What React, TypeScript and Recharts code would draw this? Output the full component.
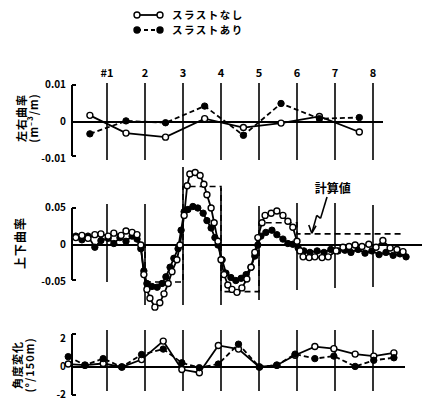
import React from "react";
import { Legend, Line, LineChart, ReferenceLine, XAxis, YAxis } from "recharts";

const FONT = '"Noto Sans CJK JP", "Noto Sans", sans-serif';

const stationNumbers = [1, 2, 3, 4, 5, 6, 7, 8];
const stationLabels = ["#1", "2", "3", "4", "5", "6", "7", "8"];
const seriesNames = ["スラストなし", "スラストあり"];

// 左右曲率 (station, value)
const lrX = [0.55, 1.5, 2.54, 3.57, 4.59, 5.58, 6.59, 7.64];
const lrNoThrust = [0.0018, -0.003, -0.0041, 0.0009, -0.0015, -0.0003, 0.0015, -0.0027];
const lrThrust = [-0.0032, 0.0003, -0.0002, 0.0043, -0.0036, 0.005, 0.0009, 0.0012];

// 上下曲率
const vNoX = [
  0.18, 0.34, 0.5, 0.68, 0.84, 1.03, 1.18, 1.37, 1.5, 1.66, 1.79, 1.89, 1.97, 2.05, 2.13, 2.26, 2.39,
  2.5, 2.61, 2.71, 2.84, 2.92, 3.03, 3.11, 3.18, 3.32, 3.45, 3.55, 3.63, 3.74, 3.82, 3.92, 4.0, 4.08,
  4.18, 4.29, 4.42, 4.55, 4.68, 4.79, 4.89, 4.97, 5.08, 5.16, 5.32, 5.47, 5.63, 5.76, 5.89, 6.0, 6.08,
  6.16, 6.32, 6.47, 6.66, 6.82, 7.03, 7.21, 7.37, 7.53, 7.71, 7.89, 8.08, 8.26, 8.45, 8.63, 8.79,
];
const vNoThrust = [
  0.01, 0.013, 0.009, 0.014, 0.015, 0.012, 0.016, 0.013, 0.019, 0.017, 0.014, 0.0, -0.04, -0.06, -0.072,
  -0.084, -0.078, -0.066, -0.052, -0.036, -0.02, 0.0, 0.04, 0.08, 0.096, 0.098, 0.094, 0.082, 0.068,
  0.05, 0.03, 0.005, -0.02, -0.04, -0.054, -0.06, -0.064, -0.058, -0.046, -0.03, -0.01, 0.01, 0.03,
  0.04, 0.043, 0.046, 0.04, 0.032, 0.024, 0.005, -0.008, -0.016, -0.017, -0.016, -0.017, -0.016,
  -0.008, -0.003, -0.002, 0.0, -0.002, 0.001, -0.003, 0.006, -0.004, -0.006, -0.009,
];
const vThX = [
  0.18, 0.34, 0.5, 0.68, 0.84, 1.03, 1.18, 1.34, 1.5, 1.66, 1.79, 1.89, 1.97, 2.05, 2.18, 2.32, 2.45,
  2.55, 2.66, 2.76, 2.87, 2.95, 3.03, 3.13, 3.26, 3.39, 3.53, 3.63, 3.74, 3.84, 3.92, 4.03, 4.13, 4.26,
  4.39, 4.53, 4.66, 4.79, 4.89, 4.97, 5.05, 5.18, 5.34, 5.47, 5.63, 5.76, 5.89, 6.03, 6.18, 6.34, 6.53,
  6.71, 6.89, 7.08, 7.26, 7.42, 7.61, 7.79, 7.97, 8.16, 8.34, 8.53, 8.71, 8.87,
];
const vThrust = [
  0.012, 0.007, 0.012, -0.003, 0.006, 0.009, 0.002, 0.01, 0.005, 0.012, 0.008, -0.005, -0.035, -0.052,
  -0.056, -0.057, -0.052, -0.043, -0.03, -0.018, -0.005, 0.02, 0.045, 0.048, 0.052, 0.05, 0.043, 0.033,
  0.023, 0.01, 0.0, -0.02, -0.038, -0.044, -0.048, -0.045, -0.04, -0.03, -0.015, 0.0, 0.012, 0.017,
  0.02, 0.014, 0.008, 0.002, 0.001, -0.004, -0.008, -0.01, -0.008, -0.01, -0.006, -0.008, -0.007,
  -0.01, -0.006, -0.011, -0.008, -0.013, -0.01, -0.014, -0.012, -0.016,
];
// 計算値 (step)
const calcX = [0.08, 2, 3, 4, 5, 6, 8.8];
const calcY = [0, -0.05, 0.079, -0.063, 0.03, 0.015, 0.015];

// 角度変化
const angX = [-0.02, 0.42, 0.9, 1.39, 1.91, 2.48, 2.97, 3.43, 3.93, 4.46, 5.01, 5.47, 5.95, 6.47, 6.97, 7.53, 8.02, 8.55];
const angNoThrust = [0.21, 0.13, 0.25, 0.0, 0.53, 1.85, -0.18, -0.41, 1.54, 1.28, 0.0, 0.13, 0.84, 1.46, 1.31, 0.92, 0.78, 1.01];
const angThrust = [0.74, 0.13, 0.6, 0.0, 0.89, 1.28, 0.3, -0.05, 0.21, 1.63, 0.0, 0.13, 0.92, 0.6, 0.78, 0.04, 0.48, 0.66];

// annotation arrow for 計算値, in (station, curvature)
const arrowPath = [
  { x: 6.79, y: 0.065 },
  { x: 6.62, y: 0.036 },
  { x: 6.52, y: 0.04 },
  { x: 6.39, y: 0.016 },
];
const arrowHead = [
  { x: 6.31, y: 0.027 },
  { x: 6.39, y: 0.016 },
  { x: 6.5, y: 0.026 },
];

// layout: 38px per station, station #1 at 107px
const stationAt = (px: number) => (px - 69) / 38;
const X_DOMAIN = [stationAt(56), stationAt(432)];
const AXIS_X = stationAt(72);

type Geom = { top: number; height: number; zero: number; scale: number };
const P1: Geom = { top: 0, height: 165, zero: 122, scale: 3700 };
const P2: Geom = { top: 165, height: 147, zero: 245, scale: 740 };
const P3: Geom = { top: 312, height: 89, zero: 367, scale: 14 };

const yDomain = (g: Geom) => [(g.zero - g.top - g.height) / g.scale, (g.zero - g.top) / g.scale];
const yAt = (g: Geom, py: number) => (g.zero - py) / g.scale;

const toPoints = (xs: number[], ys: number[]) => xs.map((x, i) => ({ x, y: ys[i] }));

const openDot = { r: 3, fill: "#fff", stroke: "#000", strokeWidth: 1.4, strokeDasharray: "none" };
const filledDot = { r: 3.2, fill: "#000", stroke: "#000", strokeWidth: 1, strokeDasharray: "none" };

const textStyle = { fill: "#000", fontFamily: FONT, fontWeight: 700 };

const renderTick = (fmt: (v: number) => string) => (props: any) => (
  <text x={66} y={props.y} dy={3} textAnchor="end" fontSize={10} {...textStyle}>
    {fmt(props.payload.value)}
  </text>
);

const renderTitle = (lines: string[], xs: number[], cy: number, size: number) => () => (
  <g>
    {lines.map((t, i) => (
      <text
        key={t}
        transform={`translate(${xs[i]},${cy}) rotate(-90)`}
        textAnchor="middle"
        dominantBaseline="central"
        fontSize={size}
        letterSpacing={1}
        {...textStyle}
      >
        {t}
      </text>
    ))}
  </g>
);

const stationLines = (g: Geom, tops: number[], bottoms: number[], labelled: boolean) =>
  stationNumbers.map((s, i) => (
    <ReferenceLine
      key={`st-${s}`}
      segment={[
        { x: s, y: yAt(g, tops[i]) },
        { x: s, y: yAt(g, bottoms[i]) },
      ]}
      stroke="#000"
      strokeWidth={1.6}
      label={
        labelled
          ? { value: stationLabels[i], position: "top", offset: 6, fontSize: 11, ...textStyle }
          : undefined
      }
    />
  ));

const bracket = (g: Geom, topPx: number, bottomPx: number) => [
  <ReferenceLine
    key="br-v"
    segment={[
      { x: AXIS_X, y: yAt(g, topPx) },
      { x: AXIS_X, y: yAt(g, bottomPx) },
    ]}
    stroke="#000"
    strokeWidth={2}
  />,
  <ReferenceLine
    key="br-t"
    segment={[
      { x: AXIS_X, y: yAt(g, topPx) },
      { x: stationAt(76), y: yAt(g, topPx) },
    ]}
    stroke="#000"
    strokeWidth={2}
  />,
  <ReferenceLine
    key="br-b"
    segment={[
      { x: AXIS_X, y: yAt(g, bottomPx) },
      { x: stationAt(76), y: yAt(g, bottomPx) },
    ]}
    stroke="#000"
    strokeWidth={2}
  />,
];

const zeroLine = (endPx: number) => (
  <ReferenceLine
    segment={[
      { x: AXIS_X, y: 0 },
      { x: stationAt(endPx), y: 0 },
    ]}
    stroke="#000"
    strokeWidth={2}
  />
);

const renderLegend = () => (
  <div style={{ fontFamily: FONT, fontWeight: 700, fontSize: 10.5, lineHeight: "15px", color: "#000" }}>
    {seriesNames.map((name, i) => (
      <div key={name} style={{ display: "flex", alignItems: "center", height: 15 }}>
        <svg width={34} height={10}>
          <line x1={5} y1={5} x2={28} y2={5} stroke="#000" strokeWidth={1.8} strokeDasharray={i ? "4 3" : undefined} />
          <circle cx={5} cy={5} r={3} fill={i ? "#000" : "#fff"} stroke="#000" strokeWidth={1.4} />
          <circle cx={28} cy={5} r={3} fill={i ? "#000" : "#fff"} stroke="#000" strokeWidth={1.4} />
        </svg>
        <span style={{ marginLeft: 6, lineHeight: "15px", letterSpacing: 1.5 }}>{name}</span>
      </div>
    ))}
  </div>
);

const fmt2 = (v: number) => (v === 0 ? "0" : v.toFixed(2));
const fmtInt = (v: number) => String(v);

const margin = { top: 0, right: 0, bottom: 0, left: 0 };

export default function App() {
  return (
    <div style={{ position: "absolute", left: 0, top: 0, width: 432, height: 401, background: "#fff", fontFamily: FONT }}>
      <div style={{ position: "absolute", left: 0, top: P1.top }}>
        <LineChart width={432} height={P1.height} margin={margin}>
          <XAxis type="number" dataKey="x" domain={X_DOMAIN} allowDataOverflow hide />
          <YAxis
            type="number"
            domain={yDomain(P1)}
            allowDataOverflow
            ticks={[0.01, 0, -0.01]}
            interval={0}
            width={56}
            axisLine={false}
            tickLine={false}
            tick={renderTick(fmt2)}
            label={renderTitle(["左右曲率", "(m⁻³/m)"], [21, 33], 118, 11)}
          />
          <Legend
            content={renderLegend}
            layout="horizontal"
            verticalAlign="middle"
            align="center"
            wrapperStyle={{ top: 7, left: 132, width: 150 }}
          />
          {zeroLine(383)}
          {bracket(P1, 85, 156)}
          {stationLines(P1, Array(8).fill(83), Array(8).fill(160), true)}
          <Line
            data={toPoints(lrX, lrNoThrust)}
            dataKey="y"
            name={seriesNames[0]}
            type="linear"
            stroke="#000"
            strokeWidth={1.8}
            dot={openDot}
            activeDot={false}
            isAnimationActive={false}
          />
          <Line
            data={toPoints(lrX, lrThrust)}
            dataKey="y"
            name={seriesNames[1]}
            type="linear"
            stroke="#000"
            strokeWidth={1.8}
            strokeDasharray="5 3"
            dot={filledDot}
            activeDot={false}
            isAnimationActive={false}
          />
        </LineChart>
      </div>

      <div style={{ position: "absolute", left: 0, top: P2.top }}>
        <LineChart width={432} height={P2.height} margin={margin}>
          <XAxis type="number" dataKey="x" domain={X_DOMAIN} allowDataOverflow hide />
          <YAxis
            type="number"
            domain={yDomain(P2)}
            allowDataOverflow
            ticks={[0.05, 0, -0.05]}
            interval={0}
            width={56}
            axisLine={false}
            tickLine={false}
            tick={renderTick(fmt2)}
            label={renderTitle(["上下曲率"], [19], 78, 12)}
          />
          {zeroLine(422)}
          {bracket(P2, 208, 280)}
          {stationLines(
            P2,
            [204, 204, 167, 188, 206, 203, 203, 205],
            [282, 305, 305, 305, 300, 290, 288, 287],
            false
          )}
          {arrowPath.slice(1).map((p, i) => (
            <ReferenceLine
              key={`ar-${i}`}
              segment={[arrowPath[i], p]}
              stroke="#000"
              strokeWidth={1.6}
              label={
                i === 0
                  ? { value: "計算値", position: "top", offset: 4, dx: 9, fontSize: 12, ...textStyle }
                  : undefined
              }
            />
          ))}
          {arrowHead.slice(1).map((p, i) => (
            <ReferenceLine key={`ah-${i}`} segment={[arrowHead[i], p]} stroke="#000" strokeWidth={1.6} />
          ))}
          <Line
            data={toPoints(calcX, calcY)}
            dataKey="y"
            name="計算値"
            type="stepAfter"
            stroke="#000"
            strokeWidth={1.6}
            strokeDasharray="6 4"
            dot={false}
            activeDot={false}
            isAnimationActive={false}
          />
          <Line
            data={toPoints(vThX, vThrust)}
            dataKey="y"
            name={seriesNames[1]}
            type="linear"
            stroke="#000"
            strokeWidth={1.8}
            dot={filledDot}
            activeDot={false}
            isAnimationActive={false}
          />
          <Line
            data={toPoints(vNoX, vNoThrust)}
            dataKey="y"
            name={seriesNames[0]}
            type="linear"
            stroke="#000"
            strokeWidth={1.8}
            dot={openDot}
            activeDot={false}
            isAnimationActive={false}
          />
        </LineChart>
      </div>

      <div style={{ position: "absolute", left: 0, top: P3.top }}>
        <LineChart width={432} height={P3.height} margin={margin}>
          <XAxis type="number" dataKey="x" domain={X_DOMAIN} allowDataOverflow hide />
          <YAxis
            type="number"
            domain={yDomain(P3)}
            allowDataOverflow
            ticks={[2, 0, -2]}
            interval={0}
            width={56}
            axisLine={false}
            tickLine={false}
            tick={renderTick(fmtInt)}
            label={renderTitle(["角度変化", "(°/150m)"], [17, 29], 53, 11)}
          />
          {zeroLine(405)}
          {bracket(P3, 334, 395)}
          {stationLines(P3, Array(8).fill(330), Array(8).fill(391), false)}
          <Line
            data={toPoints(angX, angNoThrust)}
            dataKey="y"
            name={seriesNames[0]}
            type="linear"
            stroke="#000"
            strokeWidth={1.8}
            dot={openDot}
            activeDot={false}
            isAnimationActive={false}
          />
          <Line
            data={toPoints(angX, angThrust)}
            dataKey="y"
            name={seriesNames[1]}
            type="linear"
            stroke="#000"
            strokeWidth={1.8}
            strokeDasharray="5 3"
            dot={filledDot}
            activeDot={false}
            isAnimationActive={false}
          />
        </LineChart>
      </div>
    </div>
  );
}
